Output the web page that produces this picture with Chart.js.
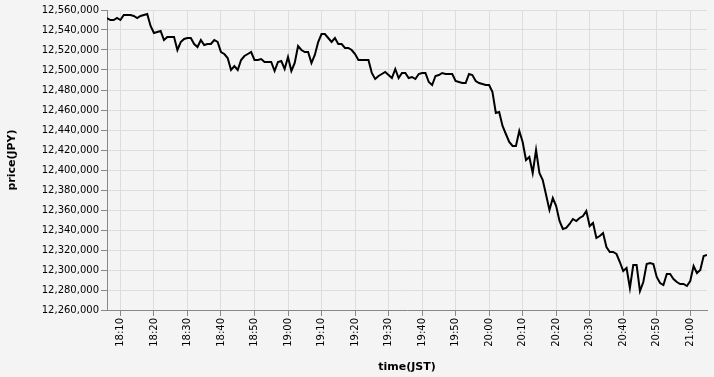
<!DOCTYPE html>
<html>
<head>
<meta charset="utf-8">
<script src="https://cdn.jsdelivr.net/npm/chart.js@4/dist/chart.umd.min.js"></script>
<style>
html,body{margin:0;padding:0;background:#f4f4f4;}
#wrap{width:714px;height:377px;position:relative;}
</style>
</head>
<body>
<div id="wrap"><canvas id="c" width="714" height="377"></canvas></div>
<script>
// time stamps (JST), one per minute
const times = [
  "18:06","18:07","18:08","18:09","18:10","18:11","18:12","18:13","18:14","18:15",
  "18:16","18:17","18:18","18:19","18:20","18:21","18:22","18:23","18:24","18:25",
  "18:26","18:27","18:28","18:29","18:30","18:31","18:32","18:33","18:34","18:35",
  "18:36","18:37","18:38","18:39","18:40","18:41","18:42","18:43","18:44","18:45",
  "18:46","18:47","18:48","18:49","18:50","18:51","18:52","18:53","18:54","18:55",
  "18:56","18:57","18:58","18:59","19:00","19:01","19:02","19:03","19:04","19:05",
  "19:06","19:07","19:08","19:09","19:10","19:11","19:12","19:13","19:14","19:15",
  "19:16","19:17","19:18","19:19","19:20","19:21","19:22","19:23","19:24","19:25",
  "19:26","19:27","19:28","19:29","19:30","19:31","19:32","19:33","19:34","19:35",
  "19:36","19:37","19:38","19:39","19:40","19:41","19:42","19:43","19:44","19:45",
  "19:46","19:47","19:48","19:49","19:50","19:51","19:52","19:53","19:54","19:55",
  "19:56","19:57","19:58","19:59","20:00","20:01","20:02","20:03","20:04","20:05",
  "20:06","20:07","20:08","20:09","20:10","20:11","20:12","20:13","20:14","20:15",
  "20:16","20:17","20:18","20:19","20:20","20:21","20:22","20:23","20:24","20:25",
  "20:26","20:27","20:28","20:29","20:30","20:31","20:32","20:33","20:34","20:35",
  "20:36","20:37","20:38","20:39","20:40","20:41","20:42","20:43","20:44","20:45",
  "20:46","20:47","20:48","20:49","20:50","20:51","20:52","20:53","20:54","20:55",
  "20:56","20:57","20:58","20:59","21:00","21:01","21:02","21:03","21:04","21:05"
];

// price (JPY)
const prices = [
  12552000,12550000,12550000,12552000,12550000,12555000,12555000,12555000,12554000,12552000,
  12554000,12555000,12556000,12544000,12537000,12538000,12539000,12530000,12533000,12533000,
  12533000,12520000,12528000,12531000,12532000,12532000,12526000,12523000,12530000,12525000,
  12526000,12526000,12530000,12528000,12518000,12516000,12512000,12500000,12504000,12500000,
  12510000,12514000,12516000,12518000,12510000,12510000,12511000,12508000,12508000,12508000,
  12499000,12508000,12509000,12501000,12513000,12499000,12507000,12524000,12520000,12518000,
  12518000,12507000,12515000,12528000,12536000,12536000,12532000,12528000,12532000,12526000,
  12526000,12522000,12522000,12520000,12516000,12510000,12510000,12510000,12510000,12497000,
  12491000,12494000,12496000,12498000,12495000,12492000,12501000,12492000,12497000,12497000,
  12492000,12493000,12491000,12496000,12497000,12497000,12488000,12485000,12494000,12495000,
  12497000,12496000,12496000,12496000,12489000,12488000,12487000,12487000,12496000,12495000,
  12489000,12487000,12486000,12485000,12485000,12478000,12457000,12458000,12444000,12436000,
  12428000,12424000,12424000,12439000,12428000,12410000,12413000,12397000,12420000,12397000,
  12390000,12375000,12360000,12372000,12364000,12349000,12341000,12342000,12346000,12351000,
  12349000,12352000,12354000,12359000,12344000,12347000,12332000,12334000,12337000,12323000,
  12318000,12318000,12316000,12308000,12299000,12302000,12282000,12305000,12305000,12279000,
  12288000,12306000,12307000,12306000,12293000,12287000,12285000,12296000,12296000,12291000,
  12288000,12286000,12286000,12284000,12289000,12304000,12297000,12300000,12314000,12315000
];

const xTickLabels = ["18:10","18:20","18:30","18:40","18:50","19:00","19:10","19:20","19:30",
  "19:40","19:50","20:00","20:10","20:20","20:30","20:40","20:50","21:00"];
const yTickMin = 12260000;
const yTickMax = 12560000;
const yTickStep = 20000;
const xTitle = "time(JST)";
const yTitle = "price(JPY)";

function toMin(t){ const p = t.split(':').map(Number); return p[0]*60 + p[1]; }

const points = times.map((t, i) => ({ x: toMin(t), y: prices[i] }));

const FONT = "'DejaVu Sans', sans-serif";

const bgPlugin = {
  id: 'bg',
  beforeDraw(chart){
    const c = chart.ctx;
    c.save();
    c.fillStyle = '#f4f4f4';
    c.fillRect(0, 0, chart.width, chart.height);
    c.restore();
  }
};

new Chart(document.getElementById('c'), {
  type: 'line',
  data: {
    datasets: [{
      data: points,
      borderColor: '#000',
      borderWidth: 2,
      pointRadius: 0,
      tension: 0,
      fill: false
    }]
  },
  options: {
    responsive: false,
    animation: false,
    devicePixelRatio: 1,
    layout: { padding: { top: 10, right: 7, bottom: 0, left: 0 } },
    plugins: { legend: { display: false }, tooltip: { enabled: false } },
    scales: {
      x: {
        type: 'linear',
        min: toMin(times[0]),
        max: toMin(times[times.length - 1]),
        afterBuildTicks: s => { s.ticks = xTickLabels.map(l => ({ value: toMin(l) })); },
        afterFit: s => { s.height = 67; },
        ticks: {
          autoSkip: false, minRotation: 90, maxRotation: 90, padding: 2,
          color: '#000', font: { family: FONT, size: 10 },
          callback: (v, i) => xTickLabels[i]
        },
        grid: { color: '#dddddd', tickColor: '#888888', tickLength: 6 },
        border: { color: '#888888', width: 1 },
        title: {
          display: true, text: xTitle, color: '#000',
          font: { family: FONT, size: 11, weight: 'bold' },
          padding: { top: 0, bottom: 3 }
        }
      },
      y: {
        min: yTickMin,
        max: yTickMax,
        afterFit: s => { s.width = 107; },
        ticks: {
          stepSize: yTickStep, padding: 2,
          color: '#000', font: { family: FONT, size: 10 },
          callback: v => Number(v).toLocaleString('en-US')
        },
        grid: { color: '#dddddd', tickColor: '#888888', tickLength: 6 },
        border: { color: '#888888', width: 1 },
        title: {
          display: true, text: yTitle, color: '#000',
          font: { family: FONT, size: 11, weight: 'bold' },
          padding: { top: 6, bottom: 0 }
        }
      }
    }
  },
  plugins: [bgPlugin]
});
</script>
</body>
</html>
